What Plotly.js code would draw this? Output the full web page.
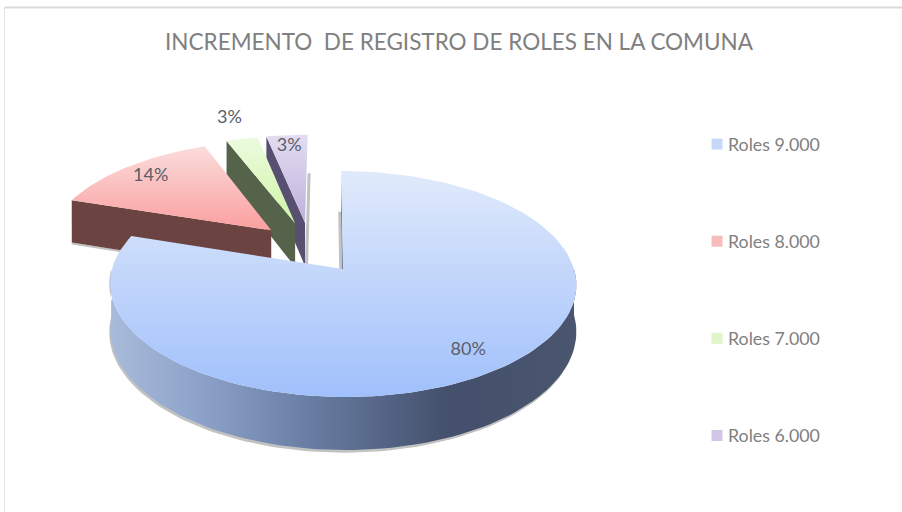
<!DOCTYPE html>
<html>
<head>
<meta charset="utf-8">
<script src="https://cdn.plot.ly/plotly-3.0.1.min.js"></script>
<style>html,body{margin:0;padding:0;background:#fff}#chart{width:902px;height:512px}</style>
</head>
<body>
<div id="chart"></div>
<script>
// ---------- data ----------
const categories = ['Roles 9.000', 'Roles 8.000', 'Roles 7.000', 'Roles 6.000'];
const values = [80, 14, 2.6, 3.4];
const chartTitle = 'INCREMENTO\u00a0\u00a0DE REGISTRO DE ROLES EN LA COMUNA';

// ---------- styles ----------
const swatchColors = ['#c6d8f8', '#f9bcbc', '#e0f6c8', '#d0c6e6'];
const topGradients = [
  ['#a0c0fb', '#e0eafb'],
  ['#fb9f9f', '#fbdcdc'],
  ['#cff5a6', '#ecfbdf'],
  ['#bfb0dd', '#e3dcf1']
];
const wallColors = ['#4b5878', '#6b4441', '#56634b', '#575070'];
const blueSideStops = [[0, '#a9bbda'], [0.2, '#8ba1c8'], [0.45, '#667a9f'], [0.72, '#44506c'], [1, '#4a556e']];
const labelRadius = [0.83, 0.83, 1.27, 0.86];
const TEXT = '#808080', LABEL = '#595f68', FONT = 'Lato, "Open Sans", sans-serif';

// ---------- projection of the tilted 3D pie ----------
const CX = 343, CY = 269, RX = 231, RY = 111, K = 0.133, DEPTH = 46, PULL = 0.245, SKEW = 2;
const rad = d => d * Math.PI / 180;
const unit = d => [Math.sin(rad(d)), Math.cos(rad(d))];
const project = (u, v, drop = 0) => {
  const f = 1 / (1 + K * v);
  return [CX + (RX * u - SKEW * v) * f, CY - RY * v * f + drop * DEPTH * f];
};
const total = values.reduce((a, b) => a + b, 0);
let acc = 0;
const slices = values.map(val => {
  const start = acc / total * 360; acc += val;
  const end = acc / total * 360;
  return {start, end, mid: (start + end) / 2};
});
const blueDir = unit(slices[0].mid);
slices.forEach(s => {
  const d = unit(s.mid);
  s.ou = PULL * (d[0] - blueDir[0]);
  s.ov = PULL * (d[1] - blueDir[1]);
});
const pt = (s, ang, r, drop = 0) => {
  const d = unit(ang);
  return project(s.ou + d[0] * r, s.ov + d[1] * r, drop);
};
const arc = (s, a0, a1, drop = 0) => {
  const out = [], n = Math.max(4, Math.ceil(Math.abs(a1 - a0) / 2));
  for (let i = 0; i <= n; i++) out.push(pt(s, a0 + (a1 - a0) * i / n, 1, drop));
  return out;
};
const poly = (pts, extra) => Object.assign({
  type: 'scatter', mode: 'lines', x: pts.map(p => p[0]), y: pts.map(p => p[1]),
  fill: 'toself', line: {width: 0}, hoverinfo: 'skip', showlegend: false
}, extra);

const traces = [];
// cast shadows along the base of the slices
const SHADOW = '#c2c2c2';
const edgeShadow = (s, ang, dx, dy) => {
  const a = pt(s, s.mid, 0, 1), b = pt(s, ang, 1, 1);
  return poly([a, b, [b[0] + dx, b[1] + dy], [a[0] + dx, a[1] + dy]], {fillcolor: SHADOW});
};
traces.push(edgeShadow(slices[3], slices[3].end, 3, 0));
traces.push(edgeShadow(slices[1], slices[1].start, 0, 2));
traces.push(edgeShadow(slices[0], slices[0].start, -3, 0));
const sa0 = Math.max(slices[0].start, 90), sa1 = Math.min(slices[0].end, 270);
traces.push(poly(arc(slices[0], sa0, sa1, 0).concat(arc(slices[0], sa1, sa0, 1.03)).map(p => [p[0] - 1, p[1] + 1]), {fillcolor: SHADOW}));

// back to front
[3, 2, 1, 0].forEach(i => {
  const s = slices[i];
  const tip = pt(s, s.mid, 0), edge = pt(s, s.start, 1);
  const tipD = pt(s, s.mid, 0, 1), edgeD = pt(s, s.start, 1, 1);
  traces.push(poly([tip, edge, edgeD, tipD], {fillcolor: wallColors[i]}));
  const a0 = Math.max(s.start, 90), a1 = Math.min(s.end, 270);
  if (a1 > a0) {
    const wall = arc(s, a0, a1, 0).concat(arc(s, a1, a0, 1));
    traces.push(poly(wall, {fillgradient: {type: 'horizontal', colorscale: blueSideStops}}));
  }
  const top = [tip].concat(arc(s, s.start, s.end));
  traces.push(poly(top, {
    fillgradient: {type: 'vertical', colorscale: [[0, topGradients[i][0]], [1, topGradients[i][1]]]}
  }));
});

// percentage labels
const labelPts = slices.map((s, i) => pt(s, s.mid, labelRadius[i]));
traces.push({
  type: 'scatter', mode: 'text', x: labelPts.map(p => p[0]), y: labelPts.map(p => p[1]),
  text: values.map(v => Math.round(v / total * 100) + '%'),
  textposition: 'middle center', textfont: {family: FONT, size: 18, color: LABEL},
  hoverinfo: 'skip', showlegend: false
});

// legend entries
categories.forEach((c, i) => traces.push({
  type: 'scatter', mode: 'markers', x: [null], y: [null], name: c, legendgroup: c,
  marker: {symbol: 'square', size: 11, color: swatchColors[i]}, hoverinfo: 'skip'
}));

const layout = {
  width: 902, height: 512, margin: {l: 0, r: 0, t: 0, b: 0},
  paper_bgcolor: '#fff', plot_bgcolor: 'rgba(0,0,0,0)',
  title: {text: chartTitle, x: 459 / 902, xanchor: 'center', y: 1 - 42 / 512, yanchor: 'middle',
          font: {family: FONT, size: 22.5, color: TEXT}},
  xaxis: {visible: false, range: [0, 902], fixedrange: true},
  yaxis: {visible: false, range: [512, 0], fixedrange: true},
  legend: {x: 697 / 902, xanchor: 'left', y: 1 - 126 / 512, yanchor: 'top', tracegroupgap: 71,
           font: {family: FONT, size: 17.8, color: TEXT}, bgcolor: 'rgba(0,0,0,0)', itemclick: false, itemdoubleclick: false},
  showlegend: true,
  shapes: [
    {type: 'line', xref: 'paper', yref: 'paper', x0: 4.5 / 902, x1: 1, y0: 1 - 7.5 / 512, y1: 1 - 7.5 / 512, line: {color: '#d9d9d9', width: 2}},
    {type: 'line', xref: 'paper', yref: 'paper', x0: 4.5 / 902, x1: 4.5 / 902, y0: 1 - 7.5 / 512, y1: 0, line: {color: '#e2e2e2', width: 1}}
  ]
};
Plotly.newPlot('chart', traces, layout, {displayModeBar: false, responsive: false}).then(() => {
  document.querySelectorAll('.legend .legendtext').forEach(t => t.setAttribute('x', 31));
});
</script>
</body>
</html>
